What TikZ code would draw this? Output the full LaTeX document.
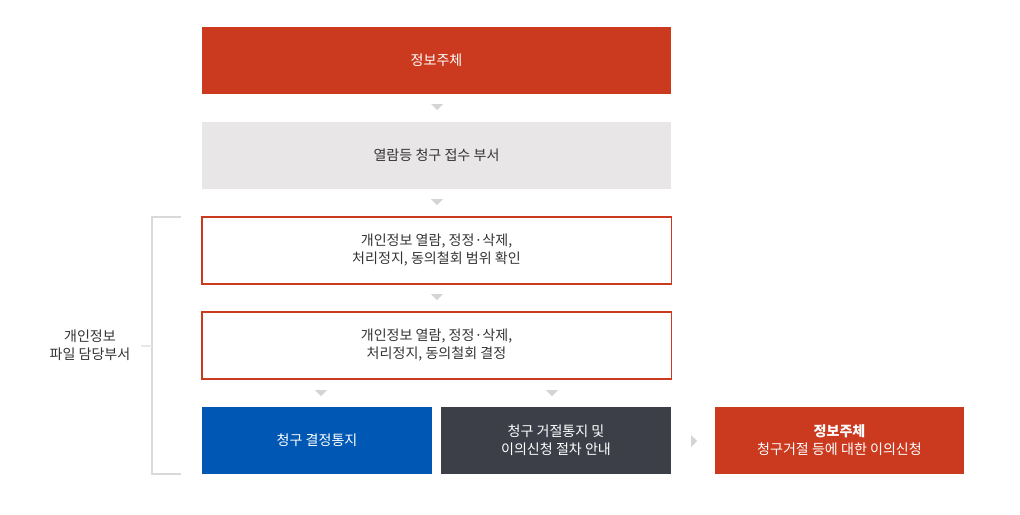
\documentclass[tikz,border=0pt]{standalone}
\usepackage{fontspec}
\setmainfont{Noto Sans CJK KR}
\definecolor{jured}{HTML}{CB3A1F}
\definecolor{jugray}{HTML}{E8E6E6}
\definecolor{jublue}{HTML}{0058B4}
\definecolor{judark}{HTML}{3C3F48}
\definecolor{jutext}{HTML}{333333}
\definecolor{jutri}{HTML}{D4D4D4}
\definecolor{juline}{HTML}{D9D9D9}
\tikzset{
	wide/.style={minimum width=11.725cm,minimum height=1.675cm,inner sep=0pt,align=center,font=\fontsize{10}{12.8}\selectfont},
	half/.style={wide,minimum width=5.75cm},
}
\newcommand{\downtri}[2]{\fill[jutri] (#1-6,#2) -- (#1+6,#2) -- (#1,#2+6) -- cycle;}
\begin{document}
\begin{tikzpicture}[x=0.025cm,y=-0.025cm]
	\useasboundingbox (0,0) rectangle (1020,514);
	% main column
	\node[wide,fill=jured,text=white] (subj) at (436.5,60.5) {정보주체};
	\node[wide,fill=jugray,text=jutext] (recv) at (436.5,155.5) {열람등 청구 접수 부서};
	\node[wide,draw=jured,thick,text=jutext] (scope) at (436.5,250.5) {개인정보 열람, 정정·삭제,\\처리정지, 동의철회 범위 확인};
	\node[wide,draw=jured,thick,text=jutext] (decide) at (436.5,345.5) {개인정보 열람, 정정·삭제,\\처리정지, 동의철회 결정};
	\node[half,fill=jublue,text=white] (notice) at (317,440.5) {청구 결정통지};
	\node[half,fill=judark,text=white] (reject) at (556,440.5) {청구 거절통지 및\\이의신청 절차 안내};
	\node[half,minimum width=6.225cm,fill=jured,text=white] (appeal) at (839.5,440.5) {\textbf{정보주체}\\청구거절 등에 대한 이의신청};
	% arrows
	\downtri{437}{104}
	\downtri{437}{199}
	\downtri{437}{294}
	\downtri{321}{390}
	\downtri{552}{390}
	\fill[jutri] (691,435) -- (697,441) -- (691,447) -- cycle;
	% bracket
	\draw[juline,line width=0.8pt] (181,217) -- (152,217) -- (152,474) -- (181,474);
	\draw[juline!60,line width=0.8pt] (141,346) -- (152,346);
	\node[text=jutext,align=center,font=\fontsize{10}{12.8}\selectfont] (owner) at (90,345) {개인정보\\파일 담당부서};
\end{tikzpicture}
\end{document}
